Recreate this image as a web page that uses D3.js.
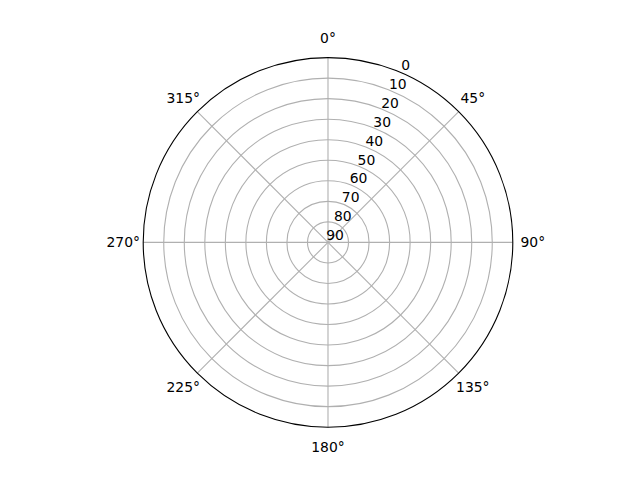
<!DOCTYPE html>
<html lang="en">
<head>
<meta charset="UTF-8">
<script src="https://d3js.org/d3.v7.min.js"></script>
<style>
body { margin: 0; background: #fff; }
text { font-family: "DejaVu Sans", sans-serif; font-size: 13.9px; fill: #000; }
</style>
</head>
<body>
<div class="canva"></div>
<script>
// polar axes: zero at north, clockwise, radius reversed (0 outside, 90 centre)
const thetaTicks = [0, 45, 90, 135, 180, 225, 270, 315];
const radialTicks = [0, 10, 20, 30, 40, 50, 60, 70, 80, 90];
const radialMin = 0;
const radialMax = 90;
const rlabelAngle = 22.5;

const width = 640, height = 480;
const cx = 328, cy = 242.4, radius = 184.8;

const svg = d3.select(".canva").append("svg")
  .attr("width", width)
  .attr("height", height);

const g = svg.append("g")
  .attr("transform", `translate(${cx},${cy})`);

const r = d3.scaleLinear().domain([radialMin, radialMax]).range([radius, 0]);
// degrees clockwise from north -> screen angle
const point = (deg, rr) => {
  const a = deg * Math.PI / 180;
  return [rr * Math.sin(a), -rr * Math.cos(a)];
};

// radial grid circles (skip outer spine and centre)
g.selectAll("circle.grid")
  .data(radialTicks.filter(d => r(d) > 0.5 && r(d) < radius - 0.5))
  .enter().append("circle")
  .attr("class", "grid")
  .attr("r", d => r(d))
  .attr("fill", "none")
  .attr("stroke", "#b0b0b0")
  .attr("stroke-width", 1.1);

// angular grid lines
g.selectAll("line.grid")
  .data(thetaTicks)
  .enter().append("line")
  .attr("class", "grid")
  .attr("x1", 0).attr("y1", 0)
  .attr("x2", d => point(d, radius)[0])
  .attr("y2", d => point(d, radius)[1])
  .attr("stroke", "#b0b0b0")
  .attr("stroke-width", 1.1);

// outer spine
g.append("circle")
  .attr("r", radius)
  .attr("fill", "none")
  .attr("stroke", "#000")
  .attr("stroke-width", 1.1);

// angle labels
g.selectAll("text.theta")
  .data(thetaTicks)
  .enter().append("text")
  .attr("class", "theta")
  .attr("x", d => point(d, radius + 20)[0])
  .attr("y", d => point(d, radius + 20)[1])
  .attr("text-anchor", "middle")
  .attr("dominant-baseline", "central")
  .text(d => d + "°");

// radial labels
g.selectAll("text.rlab")
  .data(radialTicks)
  .enter().append("text")
  .attr("class", "rlab")
  .attr("x", d => point(rlabelAngle, r(d))[0] + 7)
  .attr("y", d => point(rlabelAngle, r(d))[1] - 7)
  .attr("text-anchor", "middle")
  .attr("dominant-baseline", "central")
  .text(d => d);
</script>
</body>
</html>
